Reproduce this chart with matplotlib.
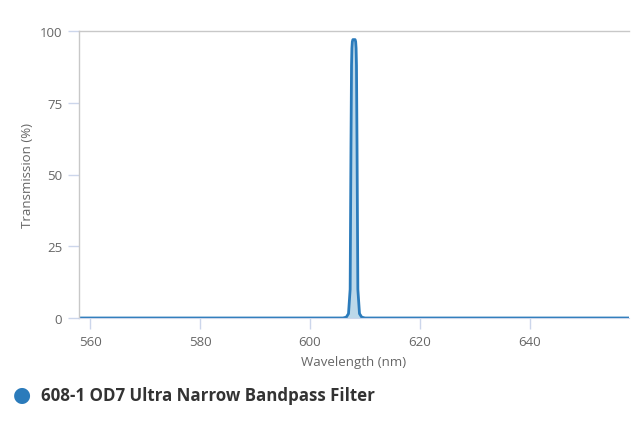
import matplotlib.pyplot as plt

# transmission curve
wavelength = [558, 606.0, 606.6, 607.0, 607.3, 607.45, 607.55, 607.62, 607.7, 607.8,
              608.2, 608.3, 608.38, 608.45, 608.55, 608.7, 609.0, 609.4, 610.0, 658]
transmission = [0, 0, 0.3, 1.5, 10, 60, 88, 94, 96.3, 97,
                97, 96.3, 94, 88, 60, 10, 1.5, 0.3, 0, 0]

x_ticks = [560, 580, 600, 620, 640]
y_ticks = [0, 25, 50, 75, 100]
series_name = "608-1 OD7 Ultra Narrow Bandpass Filter"

line_color = '#2b7bbb'
fill_color = '#bcd8e9'
tick_color = '#ccd6eb'
text_color = '#666666'

plt.rcParams['font.family'] = ['Open Sans', 'DejaVu Sans']

fig = plt.figure(figsize=(6.4, 4.27), dpi=100)
ax = fig.add_axes([79 / 640, 1 - 319 / 427, 550 / 640, 287 / 427])

ax.fill_between(wavelength, transmission, color=fill_color, linewidth=0)
ax.plot(wavelength, transmission, color=line_color, linewidth=2, solid_joinstyle='round')

ax.set_xlim(558, 658)
ax.set_ylim(0, 100)
ax.set_xticks(x_ticks)
ax.set_yticks(y_ticks)
ax.tick_params(axis='both', colors=tick_color, labelcolor=text_color, labelsize=9.5, length=8, width=1)
ax.tick_params(axis='x', pad=4)
ax.tick_params(axis='y', pad=4)

for side in ['left', 'top']:
    ax.spines[side].set_color('#c8c8c8')
    ax.spines[side].set_linewidth(1)
ax.spines['right'].set_visible(False)
ax.spines['bottom'].set_color(tick_color)

ax.set_xlabel('Wavelength (nm)', color=text_color, fontsize=9.5, labelpad=5)
ax.set_ylabel('Transmission (%)', color=text_color, fontsize=9.5, labelpad=4)

# legend drawn below the plot
fig.text(22 / 640, 1 - 395 / 427, '\u25cf', color=line_color, fontsize=15, ha='center', va='center',
         family='DejaVu Sans')
fig.text(41 / 640, 1 - 396 / 427, series_name, color='#333333', fontsize=12.2, fontweight='bold',
         ha='left', va='center', family=['Open Sans', 'DejaVu Sans'])

fig.savefig('out.png', dpi=100)
